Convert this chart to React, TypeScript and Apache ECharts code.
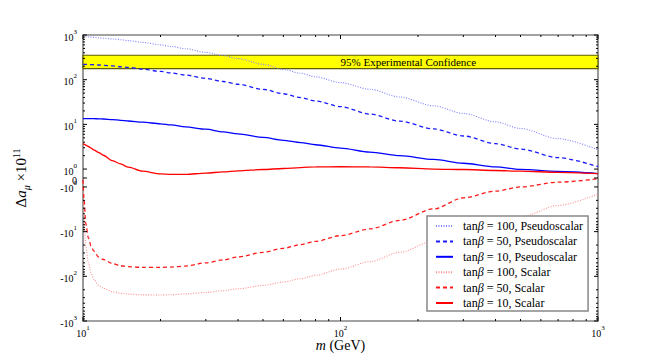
import React, { useEffect, useRef } from 'react';
import * as echarts from 'echarts';

// ---------- data ----------
const masses = [10, 10.1, 10.25, 10.5, 10.75, 11, 11.5, 12, 13, 14, 15, 17, 20, 22, 25, 30, 35, 40, 50, 60, 70, 80, 100, 130, 170, 230, 300, 400, 500, 700, 1000];

const pseudo100 = [925, 920, 914, 904, 894, 885, 867, 849, 817, 784, 748, 685, 602, 554, 493, 409, 346, 296, 221, 170, 139, 116, 86, 61, 41, 26, 17.6, 11.4, 8.1, 4.8, 2.7];
const pseudo50 = [221, 220.5, 220, 218.5, 217, 216, 213, 210, 203, 195, 188, 173, 153, 142, 127, 107, 91, 79, 61, 48.5, 39.8, 33.5, 25, 17, 11.8, 7.9, 5.5, 3.7, 2.8, 1.8, 1.13];
const pseudo10 = [13.4, 13.4, 13.4, 13.4, 13.4, 13.4, 13.3, 13.2, 12.8, 12.3, 11.9, 11.2, 10.3, 9.7, 8.8, 7.8, 6.8, 6.1, 5.1, 4.4, 3.9, 3.5, 2.95, 2.4, 2.0, 1.64, 1.35, 1.12, 0.97, 0.73, 0.5];
const scalar100 = [-0.5, -5, -22, -50, -85, -115, -160, -185, -222, -240, -250, -260, -262, -258, -248, -230, -210, -190, -160, -134, -113, -95, -69, -47, -29, -16, -10.5, -7, -4.7, -2.6, -1.43];
const scalar50 = [-0.2, -2, -6.5, -14, -21, -27, -37, -42, -52, -58, -61, -63, -63, -62, -59, -50, -43, -37, -29, -23.6, -19.5, -16.5, -12.3, -8.7, -5.6, -3.1, -1.75, -1.24, -1.0, -0.47, -0.09];
const scalar10 = [3.7, 3.6, 3.45, 3.2, 2.95, 2.7, 2.35, 2.04, 1.55, 1.3, 1.1, 0.76, 0.46, 0.4, 0.4, 0.55, 0.68, 0.8, 0.95, 1.03, 1.08, 1.12, 1.13, 1.12, 1.07, 1.0, 0.95, 0.84, 0.76, 0.64, 0.5];

const tanBetas = [100, 50, 10, 100, 50, 10];
const kinds = ['Pseudoscalar', 'Pseudoscalar', 'Pseudoscalar', 'Scalar', 'Scalar', 'Scalar'];
const seriesValues = [pseudo100, pseudo50, pseudo10, scalar100, scalar50, scalar10];

const bandLow = 177;
const bandHigh = 352;
const bandLabel = '95% Experimental Confidence';
const bandLabelMass = 100;

const xMajorTicks = [10, 100, 1000];
const xMinorTicks = [20, 30, 40, 50, 60, 70, 80, 90, 200, 300, 400, 500, 600, 700, 800, 900];
const yMajorTicks = [1000, 100, 10, 1, 0, -1, -10, -100, -1000];
const yMinorMultipliers = [2, 3, 4, 5, 6, 7, 8, 9];
const yMinorDecades = [1, 10, 100];

// ---------- styles ----------
const FONT = "'Liberation Serif', 'DejaVu Serif', serif";
const LIN = 0.2; // symlog: decades used by each half of the linear range
const colors = ['#8080ff', '#1a1aff', '#0000ff', '#ff8c8c', '#ff1a1a', '#ff0000'];
const dashes: any[] = [[1, 1.5], [4, 3], 'solid', [1, 1.5], [4, 3], 'solid'];
const widths = [1.1, 1.3, 1.3, 1.1, 1.3, 1.3];

const tr = (v: number) =>
  Math.abs(v) >= 1 ? Math.sign(v) * (Math.log10(Math.abs(v)) + LIN) : v * LIN;

const seriesNames = tanBetas.map((tb, i) => `tanβ=${tb}, ${kinds[i]}`);

const tickRich = {
  b: { fontFamily: FONT, fontSize: 10, color: '#000', lineHeight: 14, verticalAlign: 'bottom' },
  s: { fontFamily: FONT, fontSize: 7, color: '#000', lineHeight: 7, verticalAlign: 'top' },
};

const yLabelFor = (v: number) => {
  if (v === 0) return '{b|0}';
  const e = Math.round(Math.log10(Math.abs(v)));
  return `{b|${v < 0 ? '-' : ''}10}{s|${e}}`;
};

function buildOption() {
  const yMin = tr(-1000);
  const yMax = tr(1000);

  const tickData: number[][] = [];
  xMajorTicks.forEach((m) => {
    tickData.push([m, yMin, 0, 4]);
    tickData.push([m, yMax, 1, 4]);
  });
  xMinorTicks.forEach((m) => {
    tickData.push([m, yMin, 0, 2]);
    tickData.push([m, yMax, 1, 2]);
  });
  yMajorTicks.forEach((v) => {
    tickData.push([10, tr(v), 2, 4]);
    tickData.push([1000, tr(v), 3, 4]);
  });
  yMinorDecades.forEach((d) => {
    yMinorMultipliers.forEach((k) => {
      [1, -1].forEach((s) => {
        const v = s * k * d;
        tickData.push([10, tr(v), 2, 2]);
        tickData.push([1000, tr(v), 3, 2]);
      });
    });
  });

  const lineSeries = seriesValues.map((vals, i) => ({
    name: seriesNames[i],
    type: 'line',
    data: masses.map((m, j) => [m, tr(vals[j])]),
    showSymbol: false,
    symbol: 'none',
    smooth: 0.3,
    smoothMonotone: 'x',
    color: colors[i],
    lineStyle: { color: colors[i], width: widths[i], type: dashes[i] },
    z: 3,
    silent: true,
  }));

  return {
    animation: false,
    backgroundColor: '#fff',
    textStyle: { fontFamily: FONT },
    grid: {
      left: 83,
      right: 66,
      top: 35,
      bottom: 34,
      show: true,
      borderColor: '#444',
      borderWidth: 1,
      backgroundColor: 'transparent',
      containLabel: false,
      outerBoundsMode: 'none',
    },
    legend: {
      data: seriesNames,
      orient: 'vertical',
      left: 427,
      top: 216,
      itemWidth: 17,
      itemHeight: 10,
      itemGap: 3.4,
      padding: [4, 5, 2, 8],
      backgroundColor: '#fff',
      borderColor: '#888',
      borderWidth: 1.5,
      borderRadius: 0,
      itemStyle: { opacity: 0 },
      textStyle: {
        fontFamily: FONT,
        fontSize: 12,
        color: '#000',
        lineHeight: 12,
        padding: [0, 0, 0, 5],
        rich: {
          n: { fontFamily: FONT, fontSize: 12, color: '#000', lineHeight: 12 },
          i: { fontFamily: FONT, fontSize: 12, fontStyle: 'italic', color: '#000', lineHeight: 12 },
        },
      },
      formatter: (name: string) => {
        const idx = seriesNames.indexOf(name);
        return `{n|tan}{i|β}{n| = ${tanBetas[idx]}, ${kinds[idx]}}`;
      },
    },
    xAxis: {
      type: 'log',
      logBase: 10,
      min: 10,
      max: 1000,
      name: '{i|m}{n| (GeV)}',
      nameLocation: 'middle',
      nameGap: 17,
      nameMoveOverlap: false,
      nameTextStyle: {
        rich: {
          i: { fontFamily: FONT, fontSize: 14, fontStyle: 'italic', color: '#000' },
          n: { fontFamily: FONT, fontSize: 14, color: '#000' },
        },
      },
      axisLine: { show: false },
      axisTick: { show: false },
      splitLine: { show: false },
      axisLabel: {
        margin: 3,
        formatter: (v: number) => `{b|10}{s|${Math.round(Math.log10(v))}}`,
        rich: tickRich,
      },
    },
    yAxis: [
      {
        type: 'value',
        min: yMin,
        max: yMax,
        interval: LIN,
        name: '{n|Δ}{i|a}{sub|μ}{n| ×10}{sup|11}',
        nameLocation: 'middle',
        nameRotate: 90,
        nameGap: 52,
        nameMoveOverlap: false,
        nameTextStyle: {
          rich: {
            n: { fontFamily: FONT, fontSize: 15, color: '#000', lineHeight: 20, verticalAlign: 'middle' },
            i: { fontFamily: FONT, fontSize: 15, fontStyle: 'italic', color: '#000', lineHeight: 20, verticalAlign: 'middle' },
            sub: { fontFamily: FONT, fontSize: 10, fontStyle: 'italic', color: '#000', lineHeight: 10, verticalAlign: 'bottom' },
            sup: { fontFamily: FONT, fontSize: 10, color: '#000', lineHeight: 10, verticalAlign: 'top' },
          },
        },
        axisLine: { show: true, lineStyle: { color: '#999', width: 2 } },
        axisTick: { show: false },
        splitLine: { show: false },
        axisLabel: {
          margin: 6,
          formatter: (v: number) => {
            const r = Math.round(v * 10) / 10;
            const hit = yMajorTicks.find((t) => Math.abs(tr(t) - r) < 0.01);
            return hit === undefined ? '' : yLabelFor(hit);
          },
          rich: tickRich,
        },
      },
      {
        type: 'value',
        position: 'right',
        min: yMin,
        max: yMax,
        interval: LIN,
        axisLine: { show: true, lineStyle: { color: '#999', width: 2 } },
        axisTick: { show: false },
        axisLabel: { show: false },
        splitLine: { show: false },
      },
    ],
    series: [
      {
        type: 'custom',
        name: 'band',
        z: 1,
        silent: true,
        data: [[bandLabelMass, tr(bandHigh), tr(bandLow)]],
        renderItem: (params: any, api: any) => {
          const top = api.coord([10, api.value(1)]);
          const bot = api.coord([1000, api.value(2)]);
          const tp = api.coord([api.value(0), (api.value(1) + api.value(2)) / 2]);
          return {
            type: 'group',
            children: [
              {
                type: 'rect',
                shape: { x: top[0], y: top[1], width: bot[0] - top[0], height: bot[1] - top[1] },
                style: { fill: '#ffff00', stroke: '#5e5e00', lineWidth: 1.2 },
              },
              {
                type: 'text',
                style: {
                  text: bandLabel,
                  x: tp[0],
                  y: tp[1],
                  fill: '#000',
                  fontFamily: FONT,
                  fontSize: 11,
                  align: 'left',
                  textAlign: 'left',
                  verticalAlign: 'middle',
                  textVerticalAlign: 'middle',
                },
              },
            ],
          };
        },
      },
      ...lineSeries,
      {
        type: 'custom',
        name: 'ticks',
        z: 5,
        silent: true,
        data: tickData,
        renderItem: (params: any, api: any) => {
          const p = api.coord([api.value(0), api.value(1)]);
          const side = api.value(2);
          const len = api.value(3);
          let x2 = p[0];
          let y2 = p[1];
          if (side === 0) y2 -= len;
          else if (side === 1) y2 += len;
          else if (side === 2) x2 += len;
          else x2 -= len;
          return {
            type: 'line',
            shape: { x1: p[0], y1: p[1], x2, y2 },
            style: { stroke: '#000', lineWidth: 1 },
          };
        },
      },
    ],
  };
}

export default function App() {
  const ref = useRef<HTMLDivElement>(null);
  useEffect(() => {
    if (!ref.current) return;
    const chart = echarts.init(ref.current, null, { renderer: 'svg' });
    chart.setOption(buildOption() as any);
    return () => chart.dispose();
  }, []);
  return (
    <div
      ref={ref}
      style={{ position: 'fixed', left: 0, top: 0, width: 664, height: 355, background: '#fff' }}
    />
  );
}
